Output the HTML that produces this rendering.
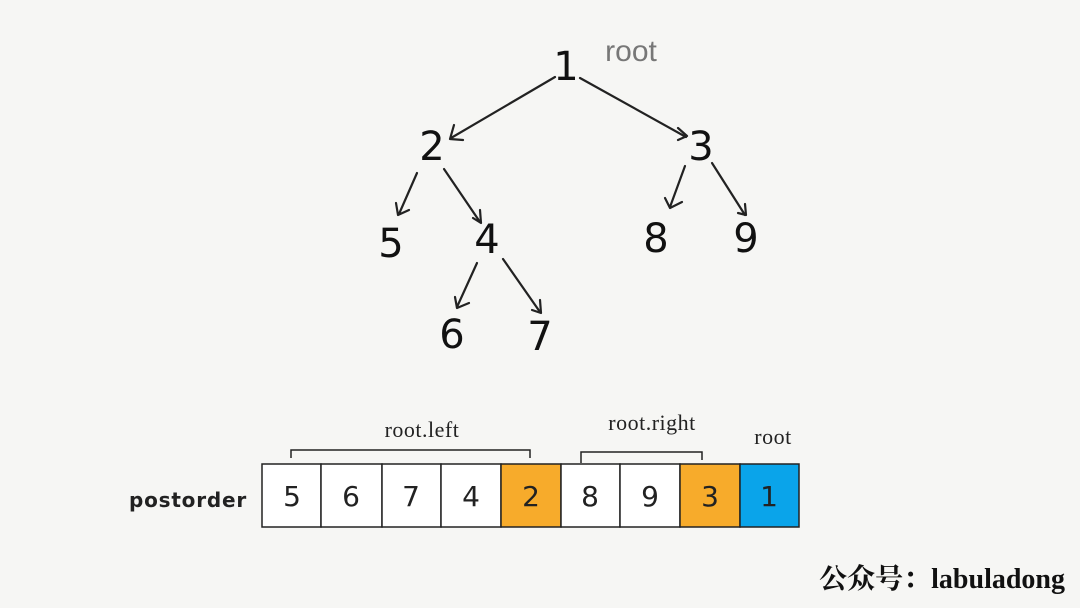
<!DOCTYPE html>
<html><head><meta charset="utf-8"><style>
html,body{margin:0;padding:0;background:#f6f6f4;}
svg{display:block}
</style></head><body>
<svg width="1080" height="608" viewBox="0 0 1080 608" xmlns="http://www.w3.org/2000/svg">
<rect width="1080" height="608" fill="#f6f6f4"/>
<g font-family="DejaVu Sans, Liberation Sans, sans-serif" font-size="40" fill="#111" text-anchor="middle">
<text x="566" y="80">1</text>
<text x="432" y="160">2</text>
<text x="701" y="160">3</text>
<text x="391" y="257">5</text>
<text x="487" y="253">4</text>
<text x="656" y="252">8</text>
<text x="746" y="252">9</text>
<text x="452" y="348">6</text>
<text x="540" y="350">7</text>
</g>
<text x="631" y="61" font-family="Liberation Sans, sans-serif" font-size="30" fill="#777" text-anchor="middle">root</text>
<g stroke="#222" stroke-width="2.2" fill="none" stroke-linecap="round" stroke-linejoin="round">
<line x1="555" y1="77" x2="451" y2="138"/><polyline points="454,125 450,139 463,140"/>
<line x1="580" y1="78" x2="686" y2="137"/><polyline points="678,128 687,136 678,140"/>
<line x1="417" y1="173" x2="399" y2="214"/><polyline points="396,203 398,215 409,210"/>
<line x1="444" y1="169" x2="480" y2="222"/><polyline points="480,210 481,223 473,218"/>
<line x1="685" y1="166" x2="670" y2="207"/><polyline points="665,198 670,208 682,202"/>
<line x1="712" y1="163" x2="745" y2="215"/><polyline points="745,204 746,215 738,213"/>
<line x1="477" y1="263" x2="457" y2="307"/><polyline points="455,297 457,308 469,303"/>
<line x1="503" y1="259" x2="540" y2="312"/><polyline points="540,300 541,313 532,310"/>
</g>
<g stroke="#222" stroke-width="1.5" fill="none">
<polyline points="291,458 291,450 530,450 530,458"/>
<polyline points="581,463 581,452 702,452 702,460"/>
</g>
<g font-family="Liberation Serif, serif" font-size="22" fill="#222" text-anchor="middle" letter-spacing="0.5">
<text x="422" y="437">root.left</text>
<text x="652" y="430">root.right</text>
<text x="773" y="444">root</text>
</g>
<text x="188" y="507" font-family="DejaVu Sans, sans-serif" font-weight="bold" font-size="20" fill="#222" text-anchor="middle" letter-spacing="0.8">postorder</text>
<g stroke="#222" stroke-width="1.5">
<rect x="262" y="464" width="59" height="63" fill="#fff"/>
<rect x="321" y="464" width="61" height="63" fill="#fff"/>
<rect x="382" y="464" width="59" height="63" fill="#fff"/>
<rect x="441" y="464" width="60" height="63" fill="#fff"/>
<rect x="501" y="464" width="60" height="63" fill="#f7ab2b"/>
<rect x="561" y="464" width="59" height="63" fill="#fff"/>
<rect x="620" y="464" width="60" height="63" fill="#fff"/>
<rect x="680" y="464" width="60" height="63" fill="#f7ab2b"/>
<rect x="740" y="464" width="59" height="63" fill="#0aa4ea"/>
</g>
<g font-family="DejaVu Sans, Liberation Sans, sans-serif" font-size="28" fill="#222" text-anchor="middle">
<text x="292" y="506">5</text><text x="351" y="506">6</text><text x="411" y="506">7</text>
<text x="471" y="506">4</text><text x="531" y="506">2</text><text x="590" y="506">8</text>
<text x="650" y="506">9</text><text x="710" y="506">3</text><text x="769" y="506">1</text>
</g>
<text x="1065" y="588" font-family="Liberation Serif, Noto Serif CJK SC, serif" font-weight="bold" font-size="28" fill="#111" text-anchor="end">公众号：labuladong</text>
</svg>
</body></html>
